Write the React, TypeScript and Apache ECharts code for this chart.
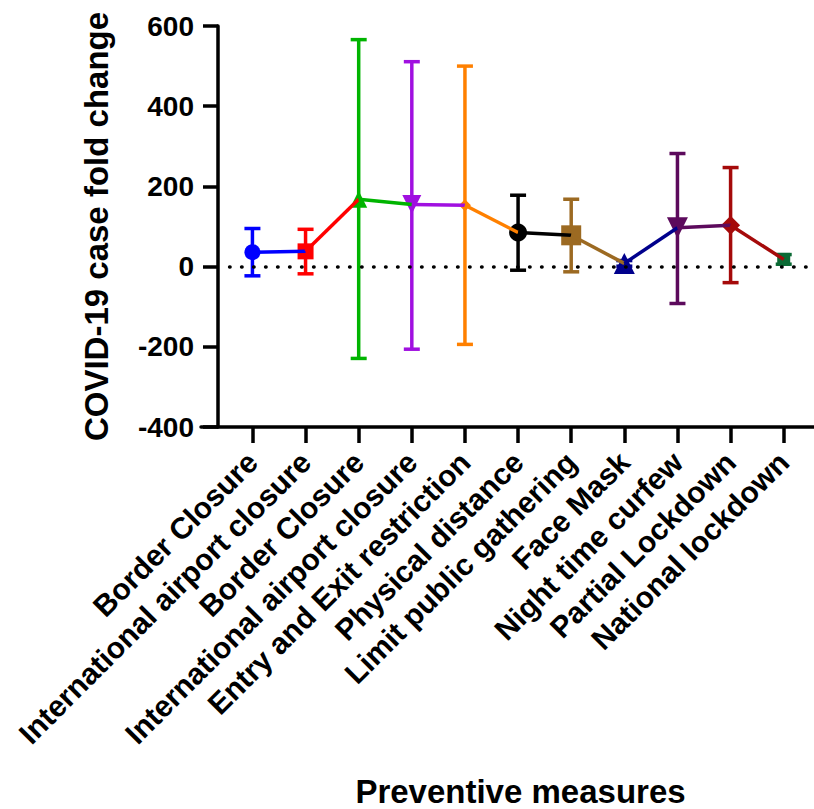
import React, { useEffect, useRef } from "react";
import * as echarts from "echarts";

const CATEGORIES = [
  "Border Closure",
  "International airport closure",
  "Border Closure",
  "International airport closure",
  "Entry and Exit restriction",
  "Physical distance",
  "Limit public gathering",
  "Face Mask",
  "Night time curfew",
  "Partial Lockdown",
  "National lockdown",
];
const MEANS = [36, 38, 168, 155, 153, 85, 78, 8, 97, 103, 18];
const UPPER = [95, 93, 566, 511, 500, 178, 168, 15, 282, 247, 30];
const LOWER = [-23, -18, -229, -206, -194, -9, -13, 1, -92, -40, 6];
const COLORS = [
  "#0000ff",
  "#ff0000",
  "#00b400",
  "#a010e0",
  "#ff8000",
  "#000000",
  "#9c6a22",
  "#00008c",
  "#5c0a5c",
  "#a50a0a",
  "#0b6a35",
];
const SYMBOLS = ["circle", "rect", "triangle", "triangle", "diamond", "circle", "rect", "triangle", "triangle", "diamond", "rect"];
const SYMBOL_ROTATE = [0, 0, 0, 180, 0, 0, 0, 0, 180, 0, 0];
const SYMBOL_SIZE = [16, 16, 17, 19, 12, 18, 20, 21, 21, 19, 13];
const Y_TICKS = [-400, -200, 0, 200, 400, 600];

const FONT = "'Liberation Sans', Arial, Helvetica, sans-serif";

export default function App() {
  const ref = useRef<HTMLDivElement>(null);
  useEffect(() => {
    document.body.style.margin = "0";
    const chart = echarts.init(ref.current!, null, { renderer: "svg" });
    const idx = CATEGORIES.map((_, i) => i);

    const lineSeries = MEANS.slice(0, -1).map((m, i) => ({
      type: "line",
      data: [
        [i, m],
        [i + 1, MEANS[i + 1]],
      ],
      symbol: "none",
      lineStyle: { color: COLORS[i], width: 3.5 },
      z: 4,
      silent: true,
    }));

    const option: any = {
      animation: false,
      grid: { left: 201, right: 0, top: 26, bottom: 382, containLabel: false, outerBoundsMode: "none" },
      xAxis: {
        type: "value",
        min: -0.968,
        max: 10.57,
        splitLine: { show: false },
        axisLine: { show: true, onZero: false, lineStyle: { color: "#000", width: 3.5 } },
        axisTick: { show: true, customValues: idx, length: 16, lineStyle: { color: "#000", width: 3.5 } },
        axisLabel: {
          show: true,
          customValues: idx,
          rotate: 45,
          margin: 30,
          color: "#000",
          fontSize: 30,
          fontWeight: "bold",
          fontFamily: FONT,
          formatter: (v: number) => CATEGORIES[Math.round(v)] ?? "",
        },
        name: "Preventive measures",
        nameLocation: "middle",
        nameGap: 348,
        nameTextStyle: {
          color: "#000",
          fontSize: 33,
          fontWeight: "bold",
          fontFamily: FONT,
          padding: [0, 0, 0, 26],
        },
      },
      yAxis: {
        type: "value",
        min: Y_TICKS[0],
        max: Y_TICKS[Y_TICKS.length - 1],
        interval: 200,
        offset: -17,
        splitLine: { show: false },
        axisLine: { show: true, onZero: false, lineStyle: { color: "#000", width: 3.5 } },
        axisTick: { show: true, length: 15, lineStyle: { color: "#000", width: 3.5 } },
        axisLabel: {
          color: "#000",
          fontSize: 28,
          fontWeight: "bold",
          fontFamily: FONT,
          margin: 24,
        },
        name: "COVID-19 case fold change",
        nameLocation: "middle",
        nameGap: 105,
        nameTextStyle: {
          color: "#000",
          fontSize: 33,
          fontWeight: "bold",
          fontFamily: FONT,
        },
      },
      series: [
        {
          type: "custom",
          z: 2,
          silent: true,
          data: MEANS.map((_, i) => [i, LOWER[i], UPPER[i]]),
          renderItem: (params: any, api: any) => {
            const i = params.dataIndex;
            const x = api.value(0);
            const top = api.coord([x, api.value(2)]);
            const bot = api.coord([x, api.value(1)]);
            const hw = 8;
            const style = { stroke: COLORS[i], lineWidth: 3.5, fill: "none" };
            return {
              type: "group",
              children: [
                { type: "line", shape: { x1: top[0], y1: top[1], x2: bot[0], y2: bot[1] }, style },
                { type: "line", shape: { x1: top[0] - hw, y1: top[1], x2: top[0] + hw, y2: top[1] }, style },
                { type: "line", shape: { x1: bot[0] - hw, y1: bot[1], x2: bot[0] + hw, y2: bot[1] }, style },
              ],
            };
          },
          markLine: {
            silent: true,
            symbol: ["none", "none"],
            label: { show: false },
            lineStyle: { color: "#000", width: 3.5, type: [0.5, 11.5], cap: "round" },
            data: [[{ coord: [-0.43, 0] }, { coord: [10.57, 0] }]],
          },
        },
        {
          type: "scatter",
          z: 3,
          silent: true,
          data: MEANS.map((m, i) => ({
            value: [i, m],
            symbol: SYMBOLS[i],
            symbolSize: SYMBOL_SIZE[i],
            symbolRotate: SYMBOL_ROTATE[i],
            itemStyle: { color: COLORS[i], opacity: 1 },
          })),
        },
        ...lineSeries,
      ],
    };
    chart.setOption(option);
    return () => chart.dispose();
  }, []);
  return <div ref={ref} style={{ width: 814, height: 809 }} />;
}
